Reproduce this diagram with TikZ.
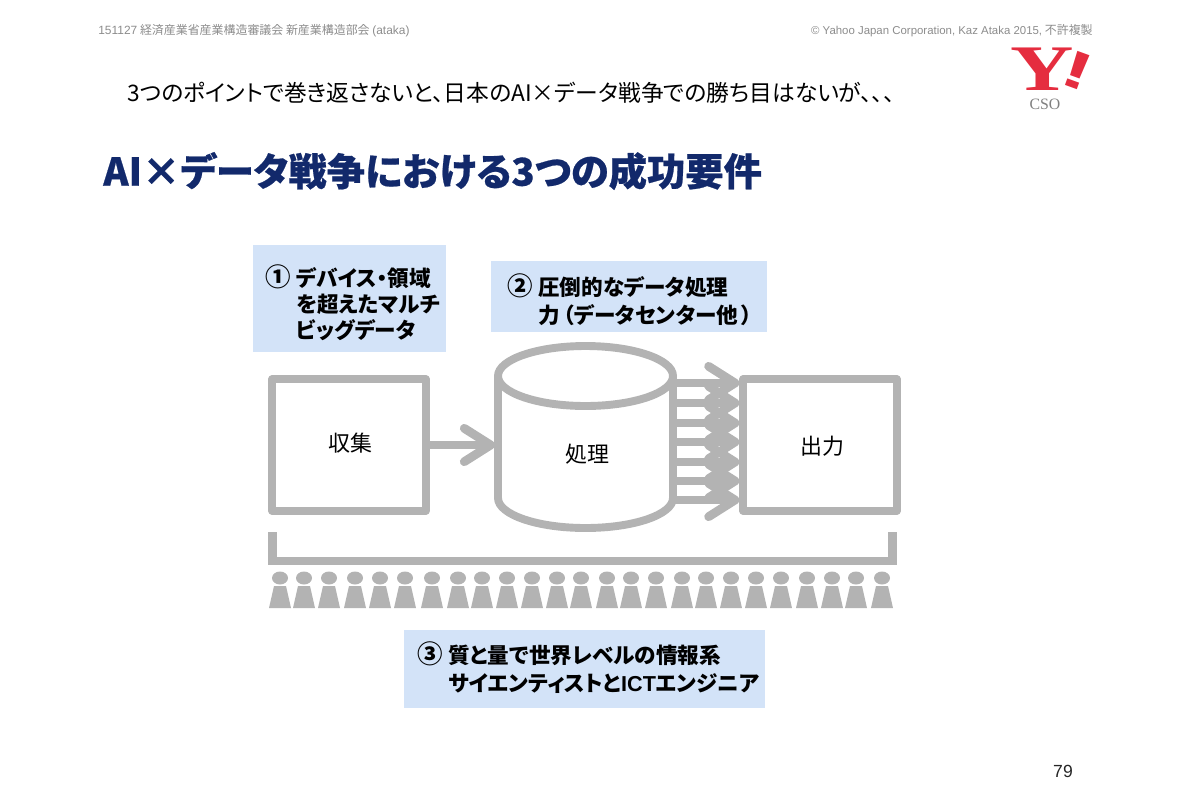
\documentclass[tikz,border=0pt]{standalone}
\usepackage{fontspec}
\setmainfont[RawFeature=+palt]{Noto Sans CJK JP}
\newfontfamily\latinfont{Liberation Sans}
\newfontfamily\logofont{Liberation Serif}
\newfontfamily\markfont{Noto Sans CJK JP}
\usetikzlibrary{arrows.meta}
\definecolor{shapegray}{HTML}{B3B3B3}
\definecolor{notegray}{HTML}{8C8C8C}
\definecolor{noteblue}{HTML}{D3E3F8}
\definecolor{titleblue}{HTML}{12296B}
\definecolor{logored}{HTML}{E52D3F}
\newcommand\pointmark[1]{\makebox[17.6pt][l]{\markfont\bfseries\fontsize{14.5}{15}\selectfont #1}}
\newcommand\pointgap{\hspace*{17.6pt}}
\tikzset{
    graybox/.style={draw=shapegray,line width=4.5pt,line join=round,fill=white,inner sep=0pt,
                    minimum width=87.3pt,minimum height=74.8pt},
    graytext/.style={inner sep=0pt,font=\fontsize{12.5}{15}\selectfont},
    pointtext/.style={font=\bfseries\fontsize{12.3}{#1}\selectfont,anchor=north west,align=left,inner sep=0pt},
    flowarrow/.style={draw=shapegray,line width=4.2pt,
                    -{Straight Barb[length=15pt,width=19pt,round,line width=5pt]}},
    notetext/.style={text=notegray,font=\fontsize{6.8}{8}\selectfont,inner sep=0pt},
    person/.style={fill=shapegray},
}
\begin{document}
\begin{tikzpicture}[x=0.02cm,y=-0.02cm]
    \useasboundingbox (0,0) rectangle (1200,806);
    %header
    \node[notetext,anchor=west] (source) at (98,31) {{\latinfont 151127} 経済産業省産業構造審議会 新産業構造部会 {\latinfont (ataka)}};
    \node[notetext,anchor=east] (copy) at (1093,31) {{\latinfont\fontsize{6.5}{8}\selectfont © Yahoo Japan Corporation, Kaz Ataka 2015,} 不許複製};
    %logo
    \node[text=logored,font=\logofont\bfseries\fontsize{37}{37}\selectfont,xscale=1.35,inner sep=0pt] (logoy) at (1042,69) {Y};
    \node[text=logored,font=\latinfont\bfseries\fontsize{30}{30}\selectfont,rotate=-20,xscale=1.7,inner sep=0pt] (logomark) at (1078,71) {!};
    \node[text=gray,font=\logofont\fontsize{9}{9}\selectfont,inner sep=0pt] (cso) at (1045,104) {CSO};
    %titles
    \node[anchor=west,inner sep=0pt,font=\fontsize{12.95}{15}\selectfont] (lead) at (127,93) {3つのポイントで巻き返さないと、日本のAI×データ戦争での勝ち目はないが、、、};
    \node[anchor=west,inner sep=0pt,text=titleblue,font=\bfseries\fontsize{21.8}{24}\selectfont] (title) at (103,171) {\addfontfeature{FakeBold=0.6}AI×データ戦争における3つの成功要件};
    %blue boxes
    \fill[noteblue] (253,245) rectangle (446,352);
    \fill[noteblue] (491,261) rectangle (767,332);
    \fill[noteblue] (404,630) rectangle (765,708);
    \node[pointtext=15] (point1) at (265,264) {\pointmark{①}デバイス・領域\\\pointgap を超えたマルチ\\\pointgap ビッグデータ};
    \node[pointtext=16] (point2) at (507,273) {\pointmark{②}圧倒的なデータ処理\\\pointgap 力\hspace{2pt}（データセンター他\hspace{2pt}）};
    \node[pointtext=16] (point3) at (417,641) {\pointmark{③}質と量で世界レベルの情報系\\\pointgap サイエンティストと{\latinfont ICT}エンジニア};
    %boxes
    \node[graybox] (input) at (349,445) {};
    \node[graybox] (output) at (820,445) {};
    \node[graytext] (inputtext) at (350,443) {収集};
    \node[graytext] (outputtext) at (822,446) {出力};
    %tank
    \draw[shapegray,line width=4.5pt,fill=white] (498,376) -- (498,498) arc[x radius=87.5,y radius=30,start angle=180,end angle=0] -- (673,376);
    \draw[shapegray,line width=4.5pt,fill=white] (585.5,376) ellipse[x radius=87.5,y radius=30];
    \node[graytext] (tank) at (587,454) {処理};
    \coordinate (tankin) at (495,445);
    \coordinate (tankout) at (673,445);
    %arrows
    \draw[flowarrow] (input.east) -- (tankin);
    \foreach \y in {383,403,423,442,462,481,500}
        \draw[flowarrow] (tankout |- 0,\y) -- (output.west |- 0,\y);
    %bracket
    \draw[shapegray,line width=5pt] (272.5,532) -- (272.5,561) -- (892.5,561) -- (892.5,532);
    %people
    \foreach \x in {280,304,329,355,380,405,432,458,482,507,532,557,581,607,631,656,682,706,731,756,781,807,832,856,882}{
        \fill[person] (\x,578) ellipse[x radius=8,y radius=6.5];
        \fill[person] (\x-6,586) -- (\x+6,586) -- (\x+11,608) -- (\x-11,608) -- cycle;
    }
    %page number
    \node[inner sep=0pt,font=\latinfont\fontsize{10}{11}\selectfont,text=black!85] (page) at (1063,771) {79};
\end{tikzpicture}
\end{document}
